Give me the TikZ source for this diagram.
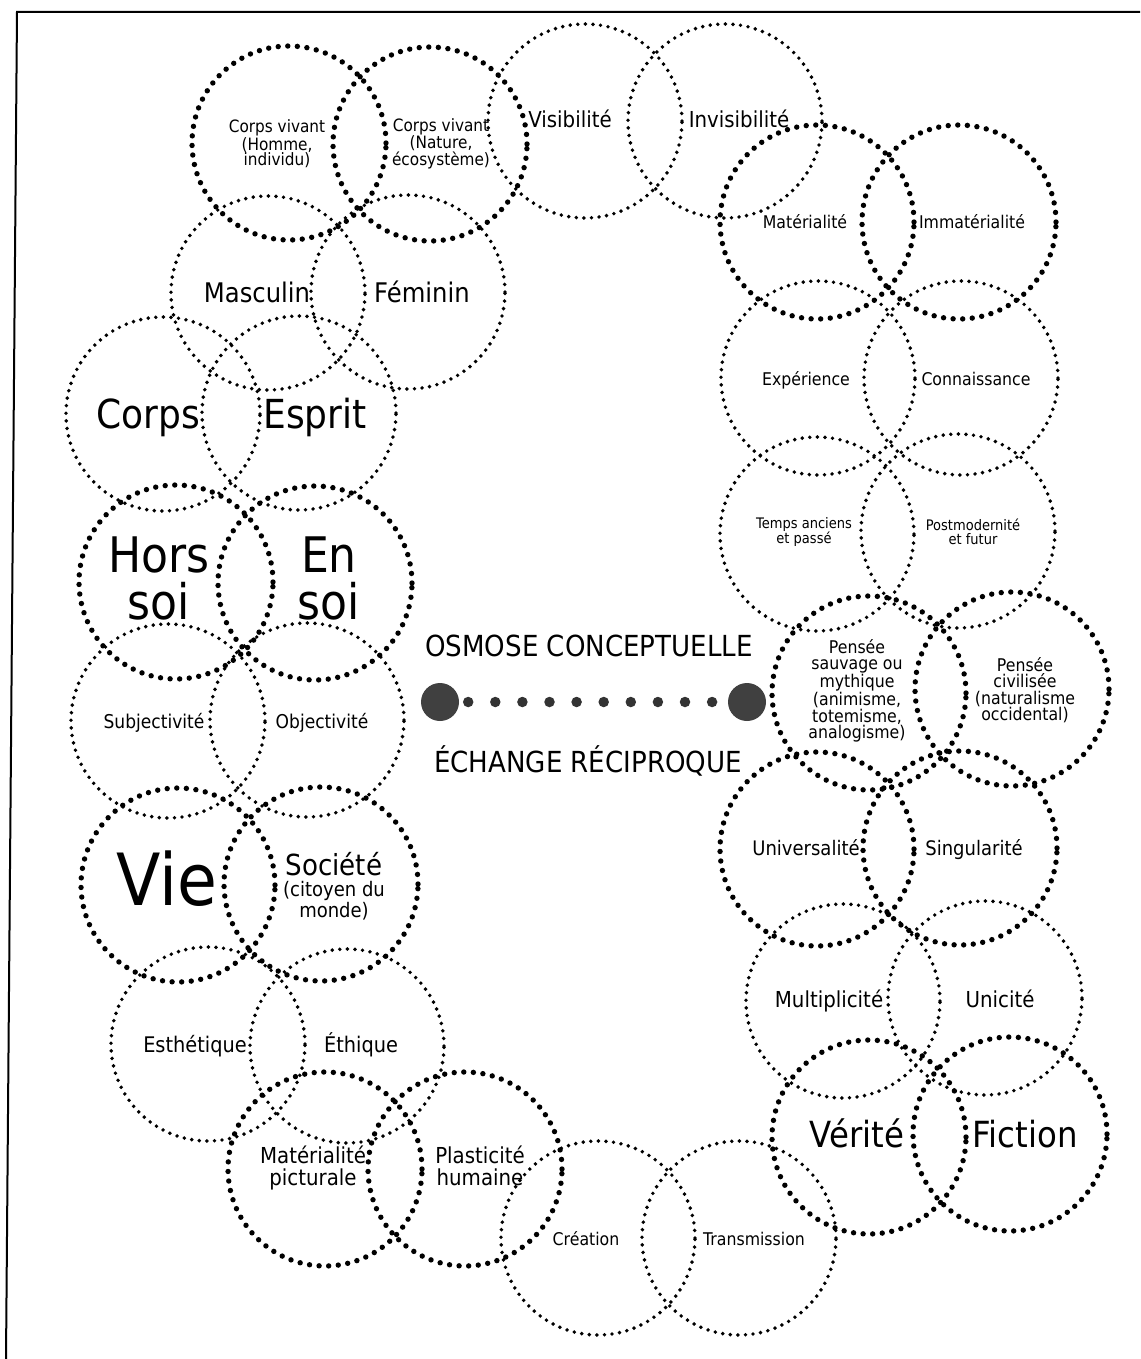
\documentclass[tikz,border=0pt]{standalone}
\usepackage{fontspec}
\setmainfont{DejaVu Sans}[FakeStretch=0.9]

\begin{document}
\begin{tikzpicture}[x=1pt, y=-1pt,
  thickring/.style={line width=5.4pt, dash pattern=on 0pt off 9.6pt, line cap=round},
  thinring/.style={line width=3.9pt, dash pattern=on 0pt off 7.6pt, line cap=round},
  txt/.style={inner sep=0pt, align=center},
  bigdot/.style={circle, fill=black!75, inner sep=0pt, minimum size=38pt},
  dotrow/.style={line width=10.5pt, line cap=round, dash pattern=on 0pt off 27.1pt, dash phase=18.1pt, black!80}]

\useasboundingbox (0,0) rectangle (1140,1359);
\draw[line width=2pt] (1140,12) -- (17,12) -- (6,1359);

\draw[thickring] (289,143) circle (97pt);
\draw[thickring] (430,144) circle (97pt);
\draw[thinring] (585,121) circle (97pt);
\draw[thinring] (725,121) circle (97pt);

\node[txt, font=\fontsize{17}{15.5}\selectfont] (homme) at (277,144) {Corps vivant\\(Homme,\\individu)};
\node[txt, font=\fontsize{17}{15.5}\selectfont] (nature) at (441,144) {Corps vivant\\(Nature,\\écosystème)};
\node[txt, anchor=base, font=\fontsize{22}{24}\selectfont] (visible) at (570,128) {Visibilité};
\node[txt, anchor=base, font=\fontsize{22}{24}\selectfont] (invisible) at (739,128) {Invisibilité};

\draw[thickring] (817,222) circle (97pt);
\draw[thickring] (959,222) circle (97pt);
\draw[thinring] (818,378) circle (97pt);
\draw[thinring] (961,378) circle (97pt);
\draw[thinring] (817,534) circle (97pt);
\draw[thinring] (958,531) circle (97pt);

\node[txt, anchor=base, font=\fontsize{17.5}{19}\selectfont] (mat) at (805,228) {Matérialité};
\node[txt, anchor=base, font=\fontsize{17.5}{19}\selectfont] (immat) at (972,228) {Immatérialité};
\node[txt, anchor=base, font=\fontsize{17.5}{19}\selectfont] (exp) at (806,385) {Expérience};
\node[txt, anchor=base, font=\fontsize{17.5}{19}\selectfont] (conn) at (976,385) {Connaissance};
\node[txt, font=\fontsize{14.5}{13.5}\selectfont] (temps) at (804,532) {Temps anciens\\et passé};
\node[txt, font=\fontsize{14.5}{13.5}\selectfont] (postmod) at (973,532) {Postmodernité\\et futur};

\draw[thickring] (869,693) circle (97pt);
\draw[thickring] (1012,689) circle (97pt);
\draw[thickring] (817,849) circle (97pt);
\draw[thickring] (960,848) circle (97pt);

\node[txt, font=\fontsize{17.5}{16.5}\selectfont] (sauvage) at (857,691) {Pensée\\sauvage ou\\mythique\\(animisme,\\totemisme,\\analogisme)};
\node[txt, font=\fontsize{17.5}{16.5}\selectfont] (civil) at (1025,690) {Pensée\\civilisée\\(naturalisme\\occidental)};
\node[txt, anchor=base, font=\fontsize{20}{22}\selectfont] (univ) at (806,855) {Universalité};
\node[txt, anchor=base, font=\fontsize{20}{22}\selectfont] (sing) at (974,855) {Singularité};

\draw[thinring] (843,1001) circle (97pt);
\draw[thinring] (985,998) circle (97pt);
\draw[thickring] (869,1137) circle (97pt);
\draw[thickring] (1010,1134) circle (97pt);
\draw[thinring] (598,1238) circle (97pt);
\draw[thinring] (739,1238) circle (97pt);

\node[txt, anchor=base, font=\fontsize{22}{24}\selectfont] (multi) at (829,1007) {Multiplicité};
\node[txt, anchor=base, font=\fontsize{22}{24}\selectfont] (unic) at (1000,1007) {Unicité};
\node[txt, anchor=base, font=\fontsize{36}{38}\selectfont] (verite) at (857,1147) {Vérité};
\node[txt, anchor=base, font=\fontsize{36}{38}\selectfont] (fiction) at (1025,1147) {Fiction};
\node[txt, anchor=base, font=\fontsize{17.5}{19}\selectfont] (creation) at (586,1245) {Création};
\node[txt, anchor=base, font=\fontsize{17.5}{19}\selectfont] (transm) at (754,1245) {Transmission};

\draw[thickring] (325,1169) circle (97pt);
\draw[thickring] (465,1169) circle (97pt);
\draw[thinring] (208,1044) circle (97pt);
\draw[thinring] (347,1046) circle (97pt);

\node[txt, font=\fontsize{22}{22}\selectfont] (picturale) at (313,1168) {Matérialité\\picturale};
\node[txt, font=\fontsize{22}{22}\selectfont] (plastic) at (480,1166) {Plasticité\\humaine};
\node[txt, anchor=base, font=\fontsize{21.5}{23}\selectfont] (esthe) at (195,1052) {Esthétique};
\node[txt, anchor=base, font=\fontsize{21.5}{23}\selectfont] (ethique) at (361,1052) {Éthique};

\draw[thickring] (178,885) circle (97pt);
\draw[thickring] (321,884) circle (97pt);
\draw[thinring] (168,721) circle (97pt);
\draw[thinring] (307,720) circle (97pt);
\draw[thickring] (176,582) circle (97pt);
\draw[thickring] (315,583) circle (97pt);

\node[txt, anchor=base, font=\fontsize{72}{74}\selectfont] (vie) at (167,905) {Vie};
\node[txt, font=\fontsize{20}{21}\selectfont] (societe) at (334,886) {{\fontsize{29}{29}\selectfont Société}\\(citoyen du\\monde)};
\node[txt, anchor=base, font=\fontsize{19}{21}\selectfont] (subj) at (154,728) {Subjectivité};
\node[txt, anchor=base, font=\fontsize{19}{21}\selectfont] (obj) at (322,728) {Objectivité};
\node[txt, font=\fontsize{49}{47}\selectfont] (horssoi) at (159,578) {Hors\\soi};
\node[txt, font=\fontsize{49}{47}\selectfont] (ensoi) at (329,578) {En\\soi};

\draw[thinring] (163,414) circle (97pt);
\draw[thinring] (299,413) circle (97pt);
\draw[thinring] (268,293) circle (97pt);
\draw[thinring] (408,292) circle (97pt);

\node[txt, anchor=base, font=\fontsize{40}{42}\selectfont] (corps) at (148,428) {Corps};
\node[txt, anchor=base, font=\fontsize{40}{42}\selectfont] (esprit) at (315,428) {Esprit};
\node[txt, anchor=base, font=\fontsize{27}{29}\selectfont] (masc) at (257,302) {Masculin};
\node[txt, anchor=base, font=\fontsize{27}{29}\selectfont] (fem) at (422,302) {Féminin};

\node[txt, anchor=base, font=\fontsize{29}{31}\selectfont] (osmose) at (589,656) {OSMOSE CONCEPTUELLE};
\node[txt, anchor=base, font=\fontsize{29}{31}\selectfont] (echange) at (588,772) {ÉCHANGE RÉCIPROQUE};

\node[bigdot] (left) at (440,702) {};
\node[bigdot] (right) at (747,702) {};
\draw[dotrow] (left) -- (right);

\end{tikzpicture}
\end{document}
